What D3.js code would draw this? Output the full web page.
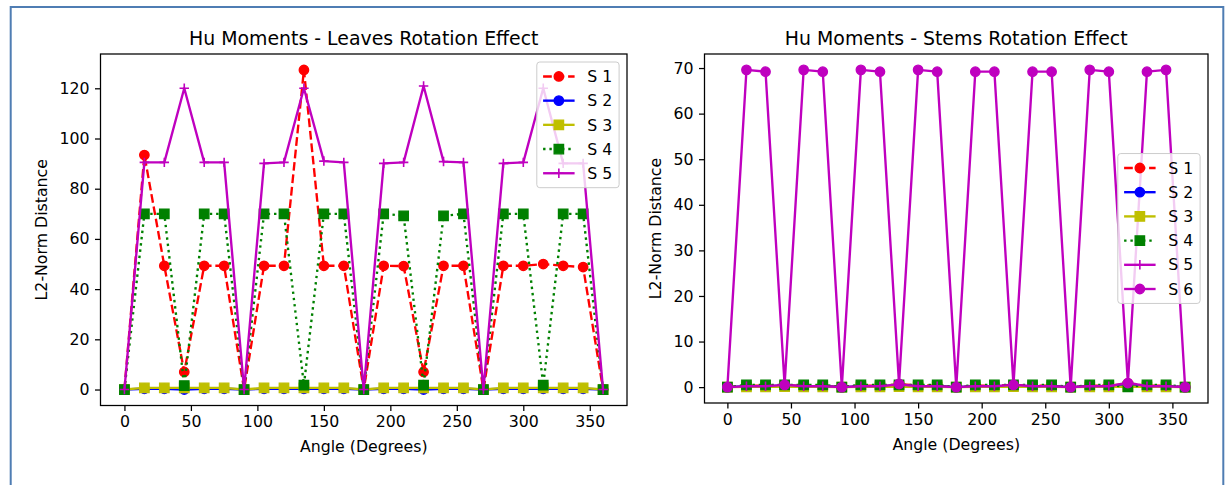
<!DOCTYPE html>
<html>
<head>
<meta charset="utf-8">
<script src="https://cdn.jsdelivr.net/npm/d3@7"></script>
<style>
  body { margin: 0; background: #fff; }
  text { font-family: "DejaVu Sans", sans-serif; fill: #000; }
</style>
</head>
<body>
<script>
// angles (degrees) for every measurement
var angles = [0, 15, 30, 45, 60, 75, 90, 105, 120, 135, 150, 165, 180, 195, 210, 225, 240, 255, 270, 285, 300, 315, 330, 345, 360];

var xTicks    = [0, 50, 100, 150, 200, 250, 300, 350];
var leafTicks = [0, 20, 40, 60, 80, 100, 120];
var stemTicks = [0, 10, 20, 30, 40, 50, 60, 70];

var seriesNames = ["S 1", "S 2", "S 3", "S 4", "S 5", "S 6"];

// leaves
var leafS1 = [0, 93.4, 49.3, 7.0, 49.3, 49.3, 0, 49.3, 49.3, 127.3, 49.3, 49.3, 0, 49.3, 49.2, 7.0, 49.3, 49.3, 0, 49.3, 49.3, 50.0, 49.3, 48.8, 0];
var leafS2 = [0, 0.3, 0.3, 0.0, 0.3, 0.3, 0, 0.3, 0.3, 0.3, 0.3, 0.3, 0, 0.3, 0.3, 0.0, 0.3, 0.3, 0, 0.3, 0.3, 0.3, 0.3, 0.3, 0];
var leafS3 = [0, 0.65, 0.65, 0.65, 0.65, 0.65, 0, 0.65, 0.65, 0.65, 0.65, 0.65, 0, 0.65, 0.65, 0.65, 0.65, 0.65, 0, 0.65, 0.65, 0.65, 0.65, 0.65, 0];
var leafS4 = [0, 70.0, 70.0, 1.6, 70.0, 70.0, 0, 70.0, 70.0, 1.8, 70.0, 70.0, 0, 70.0, 69.2, 1.8, 69.2, 70.0, 0, 70.0, 70.0, 1.8, 70.0, 70.0, 0];
var leafS5 = [0, 90.5, 90.5, 120.0, 90.5, 90.5, 0, 90.1, 90.5, 120.0, 91.0, 90.5, 0, 90.1, 90.5, 120.9, 90.8, 90.5, 0, 90.1, 90.5, 120.0, 90.1, 90.1, 0];

// stems
var stemS1 = [0, 0.3, 0.3, 0.4, 0.3, 0.3, 0, 0.3, 0.3, 0.6, 0.4, 0.3, 0, 0.3, 0.3, 0.5, 0.3, 0.3, 0, 0.3, 0.3, 0.8, 0.3, 0.3, 0];
var stemS2 = [0, 0.2, 0.2, 0.3, 0.2, 0.2, 0, 0.2, 0.2, 0.4, 0.2, 0.2, 0, 0.2, 0.2, 0.3, 0.2, 0.2, 0, 0.2, 0.2, 0.6, 0.2, 0.2, 0];
var stemS3 = [0, 0.05, 0.05, 0.1, 0.05, 0.05, 0, 0.05, 0.05, 0.1, 0.05, 0.05, 0, 0.05, 0.05, 0.1, 0.05, 0.05, 0, 0.05, 0.05, 0.1, 0.05, 0.05, 0];
var stemS4 = [0, 0.5, 0.5, 0.5, 0.5, 0.5, 0, 0.5, 0.5, 0.5, 0.5, 0.5, 0, 0.5, 0.5, 0.5, 0.5, 0.5, 0, 0.5, 0.5, 0.05, 0.5, 0.5, 0];
var stemS5 = [0, 0.2, 0.2, 0.5, 0.2, 0.2, 0, 0.2, 0.2, 0.6, 0.2, 0.2, 0, 0.2, 0.2, 0.5, 0.2, 0.2, 0, 0.2, 0.2, 1.0, 0.2, 0.2, 0];
var stemS6 = [0, 69.6, 69.2, 0.5, 69.6, 69.2, 0, 69.6, 69.2, 0.7, 69.6, 69.2, 0, 69.2, 69.2, 0.5, 69.2, 69.2, 0, 69.6, 69.2, 0.9, 69.2, 69.6, 0];

// matplotlib format strings ro--, bo-, ys-, gs:, m+-, mo-
var styles = [
  { color: "#ff0000", dash: "8.7,3.8", marker: "circle" },
  { color: "#0000ff", dash: null,      marker: "circle" },
  { color: "#bfbf00", dash: null,      marker: "square" },
  { color: "#008000", dash: "2.4,3.9", marker: "square" },
  { color: "#bf00bf", dash: null,      marker: "plus" },
  { color: "#bf00bf", dash: null,      marker: "circle" }
];

var fs = 15.75;         // 10pt
var lw = 2.36;          // 1.5pt
var ms = 9.45;          // 6pt markers

var width = 1227, height = 485;

var svg = d3.select("body").append("svg")
  .attr("width", width)
  .attr("height", height);

// outer frame of the screenshot
svg.append("rect")
  .attr("x", 10.7).attr("y", 7)
  .attr("width", 1212.6).attr("height", 520)
  .attr("fill", "none")
  .attr("stroke", "#4f7db3")
  .attr("stroke-width", 2);

function markerPath(type){
  if (type === "circle") return d3.symbol().type(d3.symbolCircle).size(Math.PI * ms * ms / 4)();
  if (type === "square") return d3.symbol().type(d3.symbolSquare).size(ms * ms)();
  var h = ms / 2;
  return "M" + (-h) + ",0H" + h + "M0," + (-h) + "V" + h;
}

function drawMarker(g, type, color, cx, cy){
  g.append("path")
    .attr("d", markerPath(type))
    .attr("transform", "translate(" + cx + "," + cy + ")")
    .attr("fill", type === "plus" ? "none" : color)
    .attr("stroke", color)
    .attr("stroke-width", type === "plus" ? 1.6 : 1.3);
}

function drawPanel(p){
  var g = svg.append("g");

  var x = d3.scaleLinear().domain([-18, 378]).range([p.left, p.right]);
  var all = d3.merge(p.series);
  var lo = d3.min(all), hi = d3.max(all), pad = (hi - lo) * 0.05;
  var y = d3.scaleLinear().domain([lo - pad, hi + pad]).range([p.bottom, p.top]);

  var line = d3.line()
    .x(function (d, i){ return x(angles[i]); })
    .y(function (d){ return y(d); });

  p.series.forEach(function (vals, k){
    var st = styles[k];
    var sg = g.append("g");
    sg.append("path")
      .attr("d", line(vals))
      .attr("fill", "none")
      .attr("stroke", st.color)
      .attr("stroke-width", lw)
      .attr("stroke-dasharray", st.dash)
      .attr("stroke-linejoin", "round");
    vals.forEach(function (v, i){
      drawMarker(sg, st.marker, st.color, x(angles[i]), y(v));
    });
  });

  // frame
  g.append("rect")
    .attr("x", p.left).attr("y", p.top)
    .attr("width", p.right - p.left).attr("height", p.bottom - p.top)
    .attr("fill", "none")
    .attr("stroke", "#000")
    .attr("stroke-width", 1.26);

  var xAxis = g.append("g")
    .attr("transform", "translate(0," + p.bottom + ")")
    .call(d3.axisBottom(x).tickValues(xTicks).tickSize(5.5).tickPadding(5));
  var yAxis = g.append("g")
    .attr("transform", "translate(" + p.left + ",0)")
    .call(d3.axisLeft(y).tickValues(p.yTicks).tickSize(5.5).tickPadding(5.5));

  [xAxis, yAxis].forEach(function (a){
    a.select(".domain").remove();
    a.selectAll("line").attr("stroke", "#000").attr("stroke-width", 1.26);
    a.selectAll("text").attr("font-size", fs).attr("font-family", "DejaVu Sans").attr("fill", "#000");
  });

  // title and axis labels
  var cx = (p.left + p.right) / 2;
  g.append("text")
    .attr("x", cx).attr("y", p.top - 9.5)
    .attr("text-anchor", "middle")
    .attr("font-size", 18.9)
    .text(p.title);

  g.append("text")
    .attr("x", cx).attr("y", p.bottom + 46.5)
    .attr("text-anchor", "middle")
    .attr("font-size", fs)
    .text("Angle (Degrees)");

  var minX = d3.min(yAxis.selectAll("text").nodes(), function (n){
    var b = n.getBBox(); return p.left + b.x;
  });
  var ly = (p.top + p.bottom) / 2;
  var lx = minX - 12;
  g.append("text")
    .attr("transform", "translate(" + lx + "," + ly + ") rotate(-90)")
    .attr("text-anchor", "middle")
    .attr("font-size", fs)
    .text("L2-Norm Distance");

  // legend
  var n = p.series.length;
  var rowH = 16.3, gap = 7.9, bp = 6.3;
  var boxW = 82.3;
  var boxH = 2 * bp + n * rowH + (n - 1) * gap;
  var bx = p.right - 7.9 - boxW;
  var by = p.legendTop != null ? p.legendTop : ly - boxH / 2;

  var lg = g.append("g");
  lg.append("rect")
    .attr("x", bx).attr("y", by)
    .attr("width", boxW).attr("height", boxH)
    .attr("rx", 3)
    .attr("fill", "#fff").attr("fill-opacity", 0.8)
    .attr("stroke", "#cccccc").attr("stroke-width", 1);

  for (var k = 0; k < n; k++){
    var st = styles[k];
    var ry = by + bp + k * (rowH + gap) + rowH / 2;
    var x0 = bx + bp, x1 = x0 + 2 * fs;
    lg.append("line")
      .attr("x1", x0).attr("x2", x1)
      .attr("y1", ry).attr("y2", ry)
      .attr("stroke", st.color)
      .attr("stroke-width", lw)
      .attr("stroke-dasharray", st.dash);
    drawMarker(lg, st.marker, st.color, (x0 + x1) / 2, ry);
    lg.append("text")
      .attr("x", x1 + 0.8 * fs).attr("y", ry)
      .attr("dy", "0.36em")
      .attr("font-size", fs)
      .text(seriesNames[k]);
  }
}

drawPanel({
  title: "Hu Moments - Leaves Rotation Effect",
  left: 100.5, right: 627, top: 54, bottom: 405.5,
  yTicks: leafTicks,
  series: [leafS1, leafS2, leafS3, leafS4, leafS5],
  legendTop: 62
});

drawPanel({
  title: "Hu Moments - Stems Rotation Effect",
  left: 704.5, right: 1208, top: 54, bottom: 403,
  yTicks: stemTicks,
  series: [stemS1, stemS2, stemS3, stemS4, stemS5, stemS6],
  legendTop: null
});
</script>
</body>
</html>
